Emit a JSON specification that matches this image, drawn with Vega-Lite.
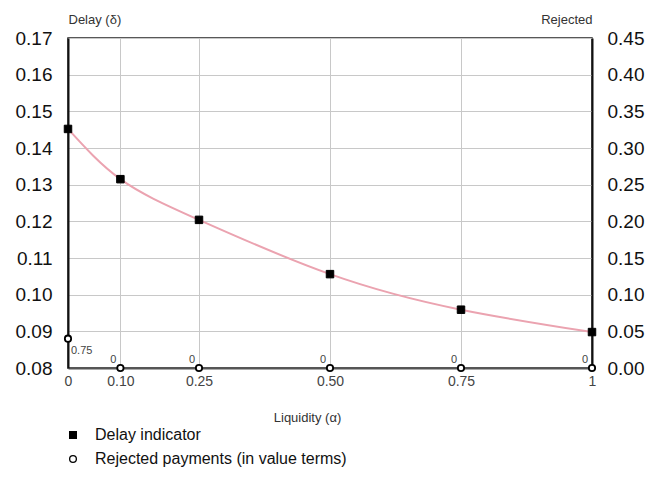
{
  "$schema": "https://vega.github.io/schema/vega-lite/v6.json",
  "width": 524,
  "height": 330,
  "autosize": {"type": "none"},
  "padding": {"left": 68, "top": 38, "right": 62, "bottom": 115},
  "datasets": {
    "delay": [
      {"alpha": 0, "delay": 0.1452, "series": "Delay indicator"},
      {"alpha": 0.1, "delay": 0.1315, "series": "Delay indicator"},
      {"alpha": 0.25, "delay": 0.1204, "series": "Delay indicator"},
      {"alpha": 0.5, "delay": 0.1056, "series": "Delay indicator"},
      {"alpha": 0.75, "delay": 0.0959, "series": "Delay indicator"},
      {"alpha": 1, "delay": 0.0898, "series": "Delay indicator"}
    ],
    "rej": [
      {"alpha": 0, "rejected": 0.75, "shown": 0.04, "label": "0.75", "series": "Rejected payments (in value terms)"},
      {"alpha": 0.1, "rejected": 0, "shown": 0, "label": "0", "series": "Rejected payments (in value terms)"},
      {"alpha": 0.25, "rejected": 0, "shown": 0, "label": "0", "series": "Rejected payments (in value terms)"},
      {"alpha": 0.5, "rejected": 0, "shown": 0, "label": "0", "series": "Rejected payments (in value terms)"},
      {"alpha": 0.75, "rejected": 0, "shown": 0, "label": "0", "series": "Rejected payments (in value terms)"},
      {"alpha": 1, "rejected": 0, "shown": 0, "label": "0", "series": "Rejected payments (in value terms)"}
    ]
  },
  "encoding": {
    "x": {
      "field": "alpha",
      "type": "quantitative",
      "scale": {"domain": [0, 1], "nice": false, "zero": false},
      "axis": {
        "values": [0, 0.1, 0.25, 0.5, 0.75, 1],
        "labelExpr": "datum.value == 0 ? '0' : datum.value == 1 ? '1' : format(datum.value, '.2f')",
        "labelFontSize": 14,
        "labelColor": "#444",
        "labelPadding": 6,
        "labelFlush": false,
        "labelBound": false,
        "ticks": false,
        "domainColor": "#555",
        "domainWidth": 2,
        "gridColor": "#c8c8c8",
        "gridWidth": 1,
        "gridOpacity": 1,
        "title": "Liquidity (α)",
        "titleFontSize": 13,
        "titleFontWeight": "normal",
        "titleColor": "#333",
        "titleX": 239,
        "titleY": 53,
        "titleBaseline": "alphabetic",
        "titleAlign": "center"
      }
    }
  },
  "layer": [
    {
      "data": {"name": "delay"},
      "encoding": {
        "y": {
          "field": "delay",
          "type": "quantitative",
          "scale": {"domain": [0.08, 0.17], "nice": false, "zero": false},
          "axis": {
            "orient": "left",
            "values": [0.08, 0.09, 0.1, 0.11, 0.12, 0.13, 0.14, 0.15, 0.16, 0.17],
            "format": ".2f",
            "labelFontSize": 19,
            "labelColor": "#111",
            "labelPadding": 16,
            "ticks": false,
            "domainColor": "#111",
            "domainWidth": 2,
            "gridColor": "#c8c8c8",
            "gridWidth": 1,
            "gridOpacity": 1,
            "title": "Delay (δ)",
            "titleAngle": 0,
            "titleFontSize": 13,
            "titleFontWeight": "normal",
            "titleColor": "#333",
            "titleX": 0,
            "titleY": -15,
            "titleAlign": "left",
            "titleBaseline": "alphabetic"
          }
        }
      },
      "layer": [
        {
          "mark": {"type": "line", "interpolate": "natural", "color": "#eba3b0", "strokeWidth": 2}
        },
        {
          "mark": {"type": "point", "filled": true, "opacity": 1, "size": 56, "strokeWidth": 1},
          "encoding": {
            "shape": {
              "field": "series",
              "type": "nominal",
              "scale": {"domain": ["Delay indicator", "Rejected payments (in value terms)"], "range": ["square", "circle"]},
              "legend": {"title": null}
            },
            "fill": {
              "field": "series",
              "type": "nominal",
              "scale": {"domain": ["Delay indicator", "Rejected payments (in value terms)"], "range": ["#000000", "#ffffff"]},
              "legend": {"title": null}
            },
            "stroke": {
              "field": "series",
              "type": "nominal",
              "scale": {"domain": ["Delay indicator", "Rejected payments (in value terms)"], "range": ["#000000", "#000000"]},
              "legend": {"title": null}
            }
          }
        }
      ]
    },
    {
      "data": {"name": "rej"},
      "encoding": {
        "y": {
          "field": "shown",
          "type": "quantitative",
          "scale": {"domain": [0, 0.45], "nice": false},
          "axis": {
            "orient": "right",
            "values": [0, 0.05, 0.1, 0.15, 0.2, 0.25, 0.3, 0.35, 0.4, 0.45],
            "format": ".2f",
            "labelFontSize": 19,
            "labelColor": "#111",
            "labelPadding": 15,
            "ticks": false,
            "grid": false,
            "domainColor": "#111",
            "domainWidth": 2,
            "title": "Rejected",
            "titleAngle": 0,
            "titleFontSize": 13,
            "titleFontWeight": "normal",
            "titleColor": "#333",
            "titleX": 0,
            "titleY": -15,
            "titleAlign": "right",
            "titleBaseline": "alphabetic"
          }
        }
      },
      "layer": [
        {
          "mark": {"type": "point", "filled": true, "opacity": 1, "size": 40, "strokeWidth": 1.8},
          "encoding": {
            "shape": {"field": "series", "type": "nominal"},
            "fill": {"field": "series", "type": "nominal"},
            "stroke": {"field": "series", "type": "nominal"}
          }
        },
        {
          "transform": [{"filter": "datum.alpha > 0"}],
          "mark": {"type": "text", "dx": -7, "dy": -8, "fontSize": 11, "fill": "#444", "align": "center", "baseline": "middle"},
          "encoding": {"text": {"field": "label"}}
        },
        {
          "transform": [{"filter": "datum.alpha == 0"}],
          "mark": {"type": "text", "dx": 3, "dy": 12, "fontSize": 11, "fill": "#444", "align": "left", "baseline": "middle"},
          "encoding": {"text": {"field": "label"}}
        }
      ]
    }
  ],
  "resolve": {"scale": {"y": "independent"}},
  "config": {
    "font": "Liberation Sans",
    "view": {"stroke": "#222", "strokeWidth": 1.5},
    "legend": {
      "orient": "none",
      "legendX": -3,
      "legendY": 389,
      "labelFontSize": 16,
      "labelColor": "#111",
      "labelOffset": 14,
      "labelLimit": 500,
      "symbolSize": 45,
      "symbolStrokeWidth": 1.3,
      "rowPadding": 8,
      "padding": 0
    }
  }
}
